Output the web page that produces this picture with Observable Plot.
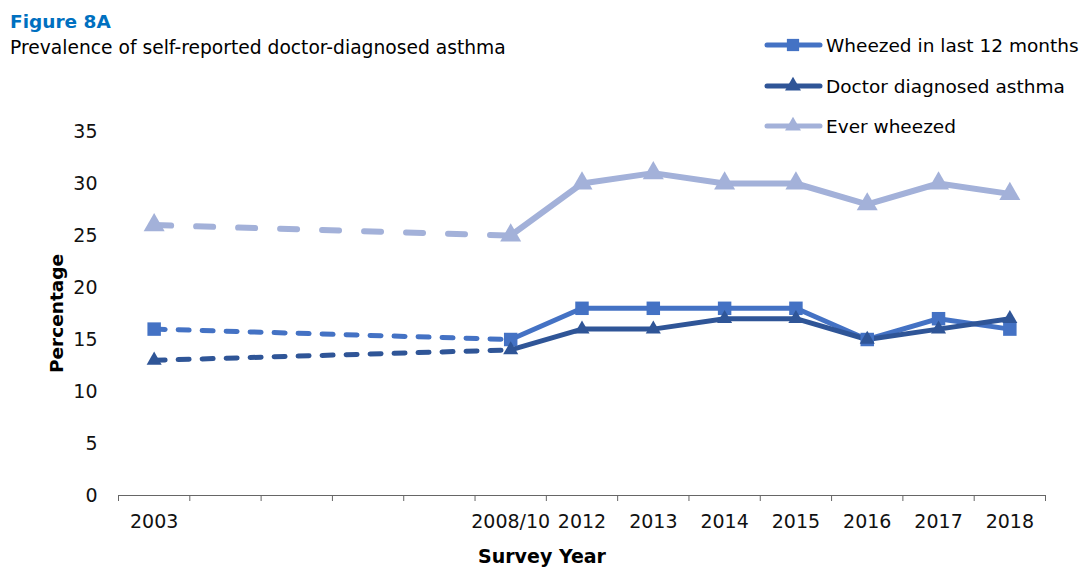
<!DOCTYPE html>
<html>
<head>
<meta charset="utf-8">
<script src="https://cdn.jsdelivr.net/npm/d3@7"></script>
<script src="https://cdn.jsdelivr.net/npm/@observablehq/plot@0.6"></script>
<style>
  html, body { margin: 0; padding: 0; background: #fff; }
  #wrap { position: relative; width: 1085px; height: 569px; font-family: "DejaVu Sans", sans-serif; color: #000; }
  #title { position: absolute; left: 10px; top: 13px; font-size: 18.5px; line-height: 1; font-weight: bold; color: #0070C0; }
  #subtitle { position: absolute; left: 10px; top: 39px; font-size: 18.7px; line-height: 1; }
  #chart { position: absolute; left: 0; top: 60px; }
  #legend { position: absolute; left: 0; top: 0; pointer-events: none; }
</style>
</head>
<body>
<div id="wrap">
  <div id="title">Figure 8A</div>
  <div id="subtitle">Prevalence of self-reported doctor-diagnosed asthma</div>
  <div id="chart"></div>
  <svg id="legend" width="1085" height="145"></svg>
</div>
<script>
// ---- Data ----
const categories = ["2003", "", "", "", "", "2008/10", "2012", "2013", "2014", "2015", "2016", "2017", "2018"];
const wheezed12    = [16, null, null, null, null, 15, 18, 18, 18, 18, 15, 17, 16];
const doctorAsthma = [13, null, null, null, null, 14, 16, 16, 17, 17, 15, 16, 17];
const everWheezed  = [26, null, null, null, null, 25, 30, 31, 30, 30, 28, 30, 29];
const seriesNames  = ["Wheezed in last 12 months", "Doctor diagnosed asthma", "Ever wheezed"];
const seriesColors = ["#4472C4", "#2F5597", "#A3B1D9"];
const seriesSymbols = ["square", "triangle", "triangle"];
const yTicks = [0, 5, 10, 15, 20, 25, 30, 35];
const solidFrom = "2008/10";

// ---- Build rows ----
const seriesValues = [wheezed12, doctorAsthma, everWheezed];
const solidStart = categories.indexOf(solidFrom);
const rows = [];
seriesValues.forEach((vals, s) => {
  vals.forEach((v, i) => {
    if (v != null) rows.push({series: seriesNames[s], s, i, value: v});
  });
});

const markerR = [7.6, 5.6, 7.8];
const lineW = [5, 5, 6];
const dash = ["11,13", "11,13", "17,25"];

const marks = [
  Plot.axisY({ticks: yTicks, tickSize: 0, tickPadding: 21, label: null, fontSize: 19, fill: "#111"}),
  Plot.axisX({ticks: d3.range(-0.5, categories.length, 1), tickSize: 6, tickFormat: () => "", label: null, stroke: "#666"}),
  Plot.axisX({ticks: d3.range(categories.length), tickSize: 0, tickPadding: 19, tickFormat: i => categories[i], label: null, fontSize: 19, fill: "#111"}),
  Plot.ruleY([0], {stroke: "#666", strokeWidth: 1.2})
];

seriesNames.forEach((name, s) => {
  const data = rows.filter(d => d.s === s);
  marks.push(Plot.line(data.filter(d => d.i <= solidStart), {
    x: "i", y: "value", stroke: seriesColors[s], strokeWidth: lineW[s],
    strokeDasharray: dash[s], strokeLinecap: "round"
  }));
  marks.push(Plot.line(data.filter(d => d.i >= solidStart), {
    x: "i", y: "value", stroke: seriesColors[s], strokeWidth: lineW[s],
    strokeLinejoin: "round", strokeLinecap: "round"
  }));
});
seriesNames.forEach((name, s) => {
  const data = rows.filter(d => d.s === s);
  marks.push(Plot.dot(data, {
    x: "i", y: "value", symbol: () => seriesSymbols[s], r: markerR[s],
    fill: seriesColors[s], stroke: "none"
  }));
});

marks.push(Plot.text(["Percentage"], {
  frameAnchor: "left", dx: -61, rotate: -90, text: d => d, textAnchor: "middle",
  fontSize: 18.5, fontWeight: "bold", fill: "#000"
}));
marks.push(Plot.text(["Survey Year"], {
  frameAnchor: "bottom", dx: -40, dy: 67, text: d => d, textAnchor: "middle",
  fontSize: 19, fontWeight: "bold", fill: "#000"
}));

const chart = Plot.plot({
  width: 1085,
  height: 509,
  marginLeft: 118,
  marginRight: 40,
  marginTop: 71,
  marginBottom: 74,
  x: {type: "linear", domain: [-0.5, categories.length - 0.5]},
  y: {domain: [0, 35]},
  style: {fontFamily: "DejaVu Sans, sans-serif", fontSize: "19px", background: "white", color: "#000"},
  marks
});
document.getElementById("chart").appendChild(chart);

// ---- Legend ----
const leg = d3.select("#legend");
const legendRowsY = [45, 86, 126];
const legSize = [150, 110, 110];
seriesNames.forEach((name, s) => {
  const y = legendRowsY[s];
  const g = leg.append("g");
  g.append("line").attr("x1", 767).attr("x2", 820).attr("y1", y).attr("y2", y)
    .attr("stroke", seriesColors[s]).attr("stroke-width", 5).attr("stroke-linecap", "round");
  g.append("path")
    .attr("d", d3.symbol(seriesSymbols[s] === "square" ? d3.symbolSquare : d3.symbolTriangle, legSize[s])())
    .attr("transform", `translate(793,${y})`).attr("fill", seriesColors[s]);
  g.append("text").attr("x", 826).attr("y", y).attr("dy", "0.36em")
    .attr("font-family", "DejaVu Sans, sans-serif").attr("font-size", 18.5).attr("fill", "#000")
    .text(name);
});
</script>
</body>
</html>
